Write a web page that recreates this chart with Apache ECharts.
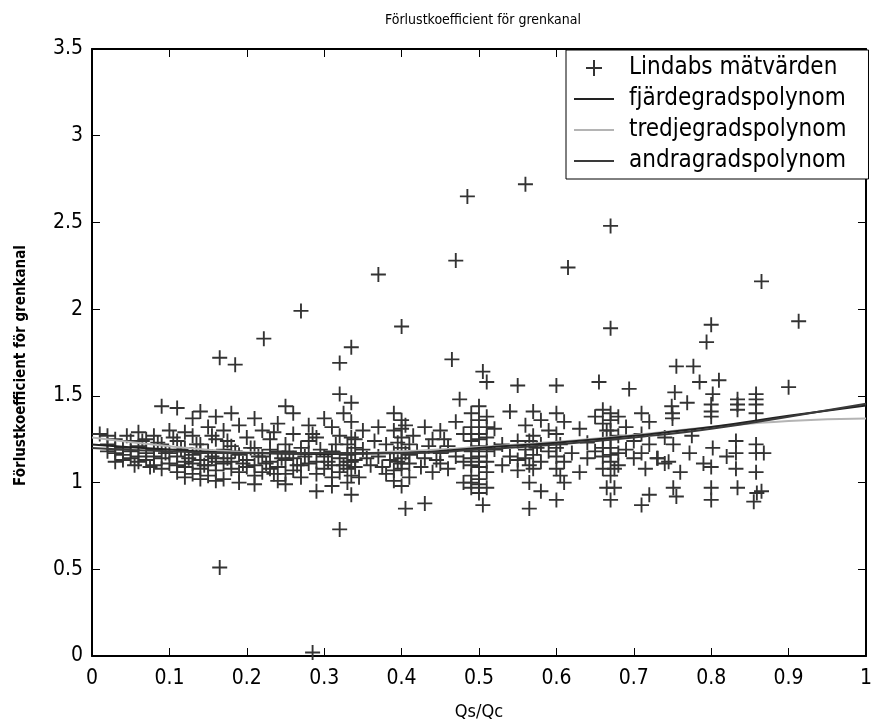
<!DOCTYPE html>
<html><head><meta charset="utf-8">
<script src="https://cdn.jsdelivr.net/npm/echarts@6/dist/echarts.min.js"></script>
<style>html,body{margin:0;padding:0;background:#fff}#c{width:875px;height:726px}</style>
</head><body><div id="c"></div>
<script>
const titleText = 'Förlustkoefficient för grenkanal';
const xAxisName = 'Qs/Qc';
const yAxisName = 'Förlustkoefficient för grenkanal';
const seriesNames = ['Lindabs mätvärden', 'fjärdegradspolynom', 'tredjegradspolynom', 'andragradspolynom'];

// measured points [Qs/Qc, coefficient]
const measured = [
[0.01,1.28],[0.02,1.27],[0.02,1.22],[0.03,1.25],[0.03,1.19],[0.04,1.20],[0.04,1.16],[0.05,1.18],[0.05,1.14],[0.06,1.21],
[0.06,1.15],[0.06,1.12],[0.07,1.17],[0.07,1.13],[0.07,1.25],[0.08,1.19],[0.08,1.15],[0.08,1.10],[0.09,1.44],[0.09,1.22],
[0.09,1.14],[0.09,1.08],[0.10,1.30],[0.10,1.17],[0.10,1.11],[0.04,1.13],[0.05,1.24],[0.08,1.27],[0.03,1.17],[0.06,1.29],
[0.11,1.43],[0.11,1.24],[0.11,1.15],[0.11,1.06],[0.12,1.20],[0.12,1.12],[0.12,1.09],[0.13,1.37],[0.13,1.27],[0.13,1.16],
[0.13,1.05],[0.14,1.41],[0.14,1.22],[0.14,1.13],[0.14,1.08],[0.15,1.32],[0.15,1.18],[0.15,1.10],[0.15,1.04],[0.16,1.38],
[0.16,1.25],[0.16,1.14],[0.16,1.07],[0.165,1.72],[0.165,0.51],[0.17,1.30],[0.17,1.19],[0.17,1.11],[0.17,1.02],[0.18,1.40],
[0.18,1.21],[0.18,1.12],[0.185,1.68],[0.19,1.33],[0.19,1.16],[0.19,1.06],[0.20,1.26],[0.20,1.13],[0.20,1.09],[0.12,1.29],
[0.14,1.17],[0.16,1.12],[0.18,1.08],[0.19,1.00],[0.13,1.11],
[0.21,1.37],[0.21,1.20],[0.21,1.10],[0.21,1.04],[0.22,1.30],[0.22,1.15],[0.22,1.06],[0.222,1.83],[0.23,1.25],[0.23,1.12],
[0.23,1.08],[0.24,1.34],[0.24,1.18],[0.24,1.09],[0.24,1.01],[0.25,1.44],[0.25,1.22],[0.25,1.13],[0.25,1.05],[0.26,1.40],
[0.26,1.28],[0.26,1.14],[0.26,1.07],[0.27,1.99],[0.27,1.20],[0.27,1.10],[0.27,1.03],[0.28,1.33],[0.28,1.17],[0.28,1.11],
[0.285,0.02],[0.29,1.26],[0.29,1.12],[0.29,1.05],[0.29,0.95],[0.30,1.37],[0.30,1.15],[0.30,1.08],[0.23,1.19],[0.28,1.24],
[0.31,1.32],[0.31,1.18],[0.31,1.10],[0.31,1.03],[0.32,1.69],[0.32,1.51],[0.32,1.27],[0.32,1.14],[0.32,1.06],[0.32,0.73],
[0.325,1.40],[0.33,1.22],[0.33,1.12],[0.33,1.08],[0.33,1.00],[0.335,1.78],[0.335,1.46],[0.335,1.35],[0.335,1.17],[0.335,1.04],
[0.335,0.93],[0.34,1.25],[0.34,1.13],[0.34,1.09],[0.35,1.30],[0.35,1.19],[0.36,1.10],[0.37,2.20],[0.37,1.32],[0.37,1.15],
[0.38,1.22],[0.38,1.05],[0.39,1.40],[0.39,1.30],[0.39,1.17],[0.39,1.01],[0.395,1.12],[0.40,1.90],[0.40,1.36],[0.40,1.26],
[0.40,1.20],[0.40,1.14],[0.40,1.08],[0.40,0.98],[0.405,0.85],[0.405,1.33],[0.41,1.22],[0.41,1.11],[0.41,1.03],[0.42,1.18],
[0.43,1.32],[0.43,1.14],[0.43,0.88],[0.44,1.25],[0.44,1.06],[0.45,1.30],[0.45,1.17],[0.45,1.11],
[0.46,1.21],[0.46,1.08],[0.465,1.71],[0.47,2.28],[0.47,1.35],[0.47,1.15],[0.475,1.48],[0.48,1.28],[0.48,1.12],[0.48,1.00],
[0.485,2.65],[0.49,1.40],[0.49,1.32],[0.49,1.24],[0.49,1.18],[0.49,1.10],[0.49,1.04],[0.49,0.97],[0.50,1.44],[0.50,1.36],
[0.50,1.28],[0.50,1.21],[0.50,1.15],[0.50,1.09],[0.50,1.02],[0.50,0.94],[0.505,1.64],[0.505,0.87],[0.51,1.58],[0.51,1.38],
[0.51,1.26],[0.51,1.12],[0.51,1.06],[0.51,0.97],[0.52,1.31],[0.52,1.19],[0.53,1.22],[0.53,1.10],[0.54,1.41],[0.54,1.15],
[0.55,1.56],[0.55,1.24],[0.55,1.13],[0.55,1.07],
[0.56,2.72],[0.56,1.33],[0.56,1.19],[0.56,1.14],[0.565,1.00],[0.565,0.85],[0.57,1.41],[0.57,1.27],[0.57,1.16],[0.57,1.08],
[0.58,1.36],[0.58,1.22],[0.58,1.12],[0.58,0.95],[0.59,1.30],[0.59,1.18],[0.60,1.56],[0.60,1.40],[0.60,1.28],[0.60,1.15],
[0.60,1.08],[0.60,0.90],[0.605,1.22],[0.61,1.35],[0.61,1.12],[0.61,1.00],[0.615,2.24],[0.62,1.17],[0.63,1.31],[0.63,1.06],
[0.64,1.23],[0.64,1.14],[0.65,1.38],[0.65,1.18],
[0.655,1.58],[0.66,1.42],[0.66,1.34],[0.66,1.25],[0.66,1.15],[0.66,1.08],[0.665,0.97],[0.67,2.48],[0.67,1.89],[0.67,1.40],
[0.67,1.36],[0.67,1.30],[0.67,1.20],[0.67,1.12],[0.67,1.04],[0.67,0.90],[0.675,0.97],[0.68,1.38],[0.68,1.27],[0.68,1.17],
[0.68,1.10],[0.69,1.32],[0.69,1.19],[0.694,1.54],[0.70,1.24],[0.70,1.14],[0.71,1.40],[0.71,1.28],[0.71,1.17],[0.71,0.87],
[0.715,1.08],[0.72,1.35],[0.72,1.22],[0.72,0.93],[0.73,1.14],[0.74,1.11],[0.74,1.26],
[0.749,1.44],[0.75,1.40],[0.75,1.37],[0.753,1.52],[0.751,1.22],[0.751,0.97],[0.755,1.67],[0.755,0.92],[0.745,1.12],[0.731,1.14],
[0.769,1.46],[0.772,1.17],[0.775,1.27],[0.777,1.67],[0.785,1.58],[0.794,1.81],[0.80,1.91],[0.802,1.51],[0.80,1.45],[0.80,1.41],
[0.80,1.38],[0.802,1.20],[0.80,1.09],[0.80,0.97],[0.80,0.90],[0.81,1.59],[0.832,1.24],[0.832,1.17],[0.832,1.08],[0.834,1.48],
[0.834,1.45],[0.834,1.42],[0.834,0.97],[0.858,1.51],[0.858,1.48],[0.858,1.45],[0.858,1.40],[0.858,1.22],[0.858,1.17],[0.858,1.06],
[0.859,0.94],[0.855,0.89],[0.865,2.16],[0.868,1.17],[0.865,0.95],[0.90,1.55],[0.913,1.93],[0.82,1.15],[0.79,1.11],[0.76,1.06],
[0.105,1.26],[0.115,1.19],[0.125,1.14],[0.135,1.22],[0.145,1.10],[0.155,1.27],[0.155,1.15],[0.175,1.24],[0.175,1.14],[0.185,1.18],
[0.195,1.11],[0.205,1.20],[0.215,1.15],[0.225,1.11],[0.235,1.29],[0.235,1.05],[0.245,1.14],[0.255,1.18],[0.265,1.10],[0.275,1.15],
[0.285,1.28],[0.295,1.19],[0.305,1.12],[0.315,1.22],[0.325,1.10],[0.33,1.16],[0.34,1.20],[0.345,1.03],[0.355,1.14],[0.365,1.24],
[0.375,1.09],[0.385,1.13],[0.395,1.23],[0.40,1.31],[0.40,1.11],[0.405,1.17],[0.415,1.27],[0.425,1.09],[0.435,1.21],[0.445,1.13],
[0.455,1.25],[0.49,1.28],[0.49,1.14],[0.49,1.00],[0.50,1.25],[0.50,1.12],[0.50,0.99],[0.51,1.18],[0.51,1.32],[0.565,1.10],
[0.565,1.24],[0.575,1.20],[0.60,1.20],[0.605,1.04],[0.66,1.20],[0.665,1.30],[0.67,1.16],[0.67,1.25],[0.675,1.08],[0.02,1.18],
[0.03,1.12],[0.045,1.27],[0.055,1.10],[0.065,1.24],[0.075,1.09],[0.085,1.23],[0.095,1.17],[0.11,1.10],[0.12,1.03],[0.14,1.02],
[0.16,1.01],[0.21,0.99],[0.25,0.99],[0.31,0.98],[0.335,1.26],[0.335,1.12],[0.39,1.07],[0.41,1.16]
];

// fitted curves read at x = 0, 0.1, ..., 1
const fitX  = [0, 0.1, 0.2, 0.3, 0.4, 0.5, 0.6, 0.7, 0.8, 0.9, 1.0];
const fit4  = [1.22, 1.19, 1.17, 1.165, 1.17, 1.20, 1.23, 1.27, 1.32, 1.385, 1.445];
const fit3  = [1.26, 1.21, 1.175, 1.165, 1.18, 1.205, 1.235, 1.275, 1.32, 1.355, 1.37];
const fit2  = [1.20, 1.18, 1.17, 1.17, 1.17, 1.19, 1.22, 1.26, 1.31, 1.38, 1.455];

const FONT = '"DejaVu Sans Condensed", "Liberation Sans Narrow", sans-serif';
const plusPath = 'path://M0,7h16v2h-16z M7,0h2v16h-2z';
const linePath = 'path://M0,0h40v2h-40z';
const pair = (ys) => fitX.map((x, i) => [x, ys[i]]);

const chart = echarts.init(document.getElementById('c'), null, {renderer: 'canvas'});
const axisCommon = {
  type: 'value', min: 0, splitLine: {show: false},
  axisLine: {show: true, onZero: false, lineStyle: {color: '#000', width: 2}},
  axisTick: {show: true, inside: true, length: 8, lineStyle: {color: '#000', width: 1}}
};
chart.setOption({
  animation: false,
  backgroundColor: '#fff',
  title: {text: titleText, left: 478, top: 8, textAlign: 'center',
    textStyle: {fontFamily: FONT, fontSize: 14, fontWeight: 'normal', color: '#000'}},
  grid: {left: 92, right: 2, top: 49, bottom: 62},
  legend: {
    orient: 'vertical', left: 566, top: 50,
    backgroundColor: '#fff', borderColor: '#000', borderWidth: 1, borderRadius: 0,
    padding: [6, 22, 6, 8], itemGap: 7, itemWidth: 40, itemHeight: 16,
    symbolKeepAspect: true,
    textStyle: {fontFamily: FONT, fontSize: 24, color: '#000', padding: [0, 0, 0, 10]},
    data: [
      {name: seriesNames[0], icon: plusPath},
      {name: seriesNames[1], icon: linePath},
      {name: seriesNames[2], icon: linePath},
      {name: seriesNames[3], icon: linePath}
    ]
  },
  xAxis: [
    Object.assign({}, axisCommon, {max: 1, interval: 0.1, position: 'bottom',
      name: xAxisName, nameLocation: 'middle', nameGap: 47,
      nameTextStyle: {fontFamily: FONT, fontSize: 18, color: '#000'},
      axisLabel: {fontFamily: FONT, fontSize: 21, color: '#000', margin: 12}}),
    Object.assign({}, axisCommon, {max: 1, interval: 0.1, position: 'top', axisLabel: {show: false}})
  ],
  yAxis: [
    Object.assign({}, axisCommon, {max: 3.5, interval: 0.5, position: 'left',
      name: yAxisName, nameLocation: 'middle', nameGap: 63,
      nameTextStyle: {fontFamily: FONT, fontSize: 15, fontWeight: 'bold', color: '#000', padding: [0, 26, 0, 0]},
      axisLabel: {fontFamily: FONT, fontSize: 21, color: '#000', margin: 9}}),
    Object.assign({}, axisCommon, {max: 3.5, interval: 0.5, position: 'right', axisLabel: {show: false}})
  ],
  series: [
    {name: seriesNames[0], type: 'scatter', data: measured, symbol: plusPath, symbolSize: 15,
      itemStyle: {color: '#333', opacity: 1}, z: 2},
    {name: seriesNames[1], type: 'line', data: pair(fit4), smooth: true, symbol: 'none', showSymbol: false,
      lineStyle: {color: '#222', width: 2}, itemStyle: {color: '#222'}, z: 4},
    {name: seriesNames[2], type: 'line', data: pair(fit3), smooth: true, symbol: 'none', showSymbol: false,
      lineStyle: {color: '#b4b4b4', width: 2}, itemStyle: {color: '#b4b4b4'}, z: 3},
    {name: seriesNames[3], type: 'line', data: pair(fit2), smooth: true, symbol: 'none', showSymbol: false,
      lineStyle: {color: '#3a3a3a', width: 2}, itemStyle: {color: '#3a3a3a'}, z: 4}
  ]
});
</script></body></html>
